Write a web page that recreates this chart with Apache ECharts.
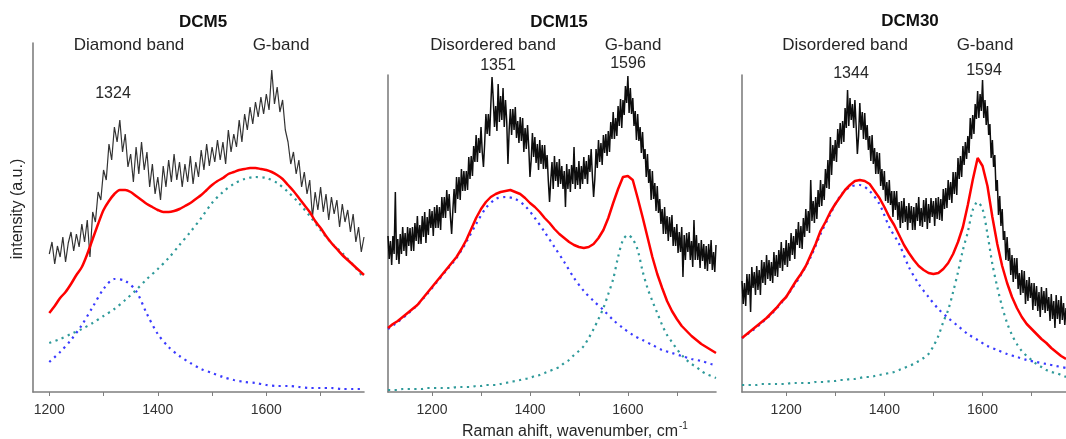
<!DOCTYPE html>
<html><head><meta charset="utf-8">
<script src="https://cdn.jsdelivr.net/npm/echarts@6/dist/echarts.min.js"></script>
<style>html,body{margin:0;padding:0;background:#fff}#c{width:1066px;height:439px}</style>
</head><body><div id="c"></div>
<script>
// ---------- wavenumber sampling grids (cm^-1) ----------
function seq(a, b, s) { const r = []; for (let v = a; v <= b + 1e-9; v += s) r.push(v); return r; }

// ---------- DCM5 ----------
const dcm5RawX = seq(1200, 1780, 5);
const dcm5Raw = [
  138,150,128,146,135,155,130,149,160,141,
  158,145,168,150,172,135,180,170,200,192,
  222,212,248,232,265,250,272,240,258,225,
  238,210,245,218,250,222,240,205,228,198,
  215,192,226,205,232,210,238,212,230,205,
  228,210,236,208,230,215,242,222,248,226,
  245,230,252,232,250,228,262,240,258,245,
  272,250,278,262,285,268,290,275,295,278,
  298,282,322,288,305,280,292,262,250,228,
  240,218,232,205,220,198,212,175,200,182,
  205,180,198,172,195,178,192,165,188,170,
  182,160,178,150,165,140,155
];
const dcm5FitX = seq(1200, 1780, 10);
const dcm5Fit = [79,86,94,100,108,117,125,138,153,168,182,191,198,202,202,200,196,192,188,185,
  182,180,180,181,183,186,189,193,197,202,207,211,214,218,220,222,223,224,224,223,
  222,220,217,213,207,201,194,187,180,171,164,156,149,143,137,132,127,122,117];
const dcm5BandX = seq(1200, 1780, 20);
const dcm5Diamond = [30,40,52,67,85,103,113,111,101,78,58,45,36,29,23,19,15,12,10,9,7,6,6,5,4,4,4,3,3,3];
const dcm5G = [49,53,58,63,69,76,83,92,102,113,123,134,147,160,174,189,200,208,213,215,214,209,200,189,176,162,149,139,127,114];

// ---------- DCM15 ----------
const dcm15RawX = seq(1110, 1780, 2.5);
const dcm15Raw = [
  156,133,151,127,156,138,200,132,153,128,158,138,165,141,159,136,165,146,164,141,
  165,141,169,151,176,148,167,148,176,155,180,149,175,157,183,164,181,156,185,164,
  187,164,185,162,195,174,195,174,202,181,198,175,158,182,203,179,215,193,215,192,
  223,201,221,201,221,202,235,213,236,216,246,230,257,230,254,239,265,240,225,249,
  278,258,278,256,287,315,293,265,286,261,308,270,296,272,304,265,292,271,228,262,
  283,257,283,262,285,254,271,249,275,251,274,240,264,243,267,245,215,232,259,235,
  255,229,248,222,252,228,247,223,247,223,237,211,190,212,230,203,236,211,230,205,
  233,208,226,203,221,185,228,203,223,200,227,208,245,203,225,207,231,203,226,208,
  235,213,231,208,237,220,243,216,195,213,243,224,252,230,249,227,257,239,258,236,
  261,240,270,253,280,253,274,256,286,266,293,264,292,277,306,289,316,279,304,278,
  294,266,281,252,278,251,265,239,260,233,243,215,238,209,223,192,221,193,209,181,
  206,179,193,168,183,158,185,158,176,151,175,155,177,146,165,146,168,139,160,140,
  165,115,157,132,159,140,160,132,151,125,172,132,157,132,149,124,152,131,148,123,
  146,121,148,128,152,122,140,120,147
];
const dcm15FitX = seq(1110, 1780, 10);
const dcm15Fit = [64,68,71,75,79,83,87,93,99,105,111,117,123,129,135,143,152,163,174,183,
  190,195,198,200,201,202,200,198,194,189,185,180,174,169,163,158,154,150,147,145,
  144,145,148,154,162,174,189,203,215,216,212,194,175,155,135,118,104,91,81,73,
  66,61,56,52,48,45,42,39];
const dcm15G = [2,2,2,3,3,3,3,3,4,4,4,4,4,4,5,5,5,5,6,6,
  7,7,7,8,9,10,11,12,13,14,16,17,19,21,23,25,29,32,37,41,
  46,54,63,73,84,98,113,135,152,157,153,142,121,104,91,79,67,57,50,43,
  37,32,28,25,21,18,16,14];
const dcm15BandX = seq(1110, 1770, 20).concat([1780]);
const dcm15D = [63,70,78,87,98,110,122,134,150,168,184,193,195,193,186,174,160,145,130,114,
  101,91,82,72,64,57,52,47,42,39,36,33,31,28,27];

// ---------- DCM30 ----------
const dcm30RawX = seq(1110, 1770, 2.5);
const dcm30Raw = [
  111,88,109,86,118,97,118,80,125,104,120,97,126,102,122,97,132,109,130,107,
  137,113,132,111,130,109,140,116,137,115,142,124,150,121,144,127,152,125,149,131,
  159,137,156,133,163,147,170,144,166,143,174,155,183,161,181,159,212,171,191,169,
  195,173,202,185,212,186,208,192,223,204,232,203,255,217,247,231,252,230,263,244,
  269,248,271,250,284,264,302,266,294,272,288,264,292,266,238,256,289,262,280,253,
  279,252,267,242,256,231,257,228,244,218,240,218,239,206,223,202,221,191,210,189,
  212,187,201,175,201,182,201,172,190,164,191,169,194,170,186,162,189,169,186,162,
  185,162,189,171,195,166,184,165,192,170,194,163,188,169,194,175,191,166,194,173,
  195,172,193,171,203,183,204,184,212,192,210,189,220,198,220,197,234,213,236,215,
  246,227,250,233,256,239,274,253,277,258,288,273,301,274,298,281,312,274,292,267,
  286,257,268,234,252,225,237,201,212,177,196,166,183,152,161,132,155,131,144,117,
  137,110,134,113,134,103,119,97,122,99,121,88,112,91,115,94,109,82,109,86,
  106,81,100,75,105,82,101,79,104,81,95,71,98,73,91,64,97,73,92,68,
  96,72,89,67,84
];
const dcm30FitX = seq(1110, 1770, 10);
const dcm30Fit = [54,58,62,66,70,74,79,84,90,95,103,111,118,126,137,148,161,170,180,188,
  195,202,207,211,212,211,208,201,194,185,175,167,157,147,139,132,126,122,119,118,
  119,123,129,138,150,165,187,212,234,226,206,175,148,126,109,95,84,75,68,63,
  58,53,49,44,40,36,33];
const dcm30G = [7,7,7,7,8,8,8,8,8,8,9,9,9,9,9,10,10,10,11,11,
  12,12,13,13,14,15,15,16,17,18,19,20,22,24,26,28,31,34,38,46,
  56,70,82,100,120,142,160,182,190,183,158,128,105,85,69,57,48,41,36,32,
  28,25,22,20,19,17,15];
const dcm30BandX = seq(1110, 1770, 20);
const dcm30D = [54,61,69,78,89,102,117,135,158,178,196,205,207,201,188,165,148,125,108,95,
  83,74,66,58,52,46,42,38,35,32,30,28,26,24];

// ---------- axis ticks ----------
const tickValues = [1200,1300,1400,1500,1600,1700];
const labelValues = [1200,1400,1600];

// ---------- text ----------
const panelTitles = ['DCM5','DCM15','DCM30'];
const bandLabels = [['Diamond band','G-band'],['Disordered band','G-band'],['Disordered band','G-band']];
const peakLabels = [['1324'],['1351','1596'],['1344','1594']];

const FONT = "'Liberation Sans', Arial, Helvetica, sans-serif";
const pairs = (xs, ys) => ys.map((y, i) => [xs[i], y]);
const AXC = '#7f7f7f';

const grids = [
  {left:33, top:43, width:331, height:349},
  {left:388, top:75, width:328, height:317},
  {left:742, top:75, width:324, height:317}
];
const xr = [[1170,1780],[1110,1780],[1110,1770]];
const ymax = [349, 317, 317];

const xAxes = grids.map((g, i) => ({
  gridIndex:i, type:'value', min:xr[i][0], max:xr[i][1],
  axisLine:{show:true, onZero:false, lineStyle:{color:AXC, width:1.6}},
  axisTick:{show:true, length:4, customValues:tickValues, lineStyle:{color:AXC, width:1}},
  axisLabel:{customValues:labelValues, fontSize:14, color:'#333', margin:11, fontFamily:FONT,
    formatter:(v) => String(v)},
  splitLine:{show:false}
}));
const yAxes = grids.map((g, i) => ({
  gridIndex:i, type:'value', min:0, max:ymax[i],
  axisLine:{show:true, onZero:false, lineStyle:{color:AXC, width:1.6}},
  axisTick:{show:false}, axisLabel:{show:false}, splitLine:{show:false}
}));

function raw(i, data, color, w, op) {
  return {type:'line', xAxisIndex:i, yAxisIndex:i, data, showSymbol:false, silent:true,
    lineStyle:{color, width:w, opacity:op}, z:2};
}
function dots(i, data, color) {
  return {type:'line', xAxisIndex:i, yAxisIndex:i, data, showSymbol:false, silent:true, smooth:0.3,
    lineStyle:{color, width:2.2, type:[2.2,4.4]}, z:3};
}
function fit(i, data, smooth) {
  return {type:'line', xAxisIndex:i, yAxisIndex:i, data, showSymbol:false, silent:true, smooth,
    lineStyle:{color:'#ff0000', width:2.5}, z:4};
}
const BLUE = '#3a3aff', TEAL = '#2f9a9a';

const series = [
  raw(0, pairs(dcm5RawX, dcm5Raw), '#333', 1.2, 1),
  dots(0, pairs(dcm5BandX, dcm5Diamond), BLUE),
  dots(0, pairs(dcm5BandX, dcm5G), TEAL),
  fit(0, pairs(dcm5FitX, dcm5Fit), 0.3),
  raw(1, pairs(dcm15RawX, dcm15Raw), '#000', 1.5, 0.95),
  dots(1, pairs(dcm15BandX, dcm15D), BLUE),
  dots(1, pairs(dcm15FitX, dcm15G), TEAL),
  fit(1, pairs(dcm15FitX, dcm15Fit), false),
  raw(2, pairs(dcm30RawX, dcm30Raw), '#000', 1.5, 0.95),
  dots(2, pairs(dcm30BandX, dcm30D), BLUE),
  dots(2, pairs(dcm30FitX, dcm30G), TEAL),
  fit(2, pairs(dcm30FitX, dcm30Fit), false)
];

function txt(text, x, y, size, bold, extra) {
  return Object.assign({type:'text', x, y, silent:true,
    style:{text, font:(bold?'bold ':'') + size + 'px ' + FONT, fill:bold?'#111':'#262626',
      align:'center', verticalAlign:'middle'}}, extra || {});
}
const graphic = [
  txt(panelTitles[0], 203, 22, 17, true),
  txt(panelTitles[1], 559, 22, 17, true),
  txt(panelTitles[2], 910, 21, 17, true),
  txt(bandLabels[0][0], 129, 45, 17),
  txt(bandLabels[0][1], 281, 45, 17),
  txt(peakLabels[0][0], 113, 94, 16),
  txt(bandLabels[1][0], 493, 45, 17),
  txt(bandLabels[1][1], 633, 45, 17),
  txt(peakLabels[1][0], 498, 66, 16),
  txt(peakLabels[1][1], 628, 64, 16),
  txt(bandLabels[2][0], 845, 45, 17),
  txt(bandLabels[2][1], 985, 45, 17),
  txt(peakLabels[2][0], 851, 74, 16),
  txt(peakLabels[2][1], 984, 71, 16),
  txt('intensity (a.u.)', 18, 209, 16, false, {rotation:Math.PI/2}),
  txt('Raman ahift, wavenumber, cm', 570, 432, 16),
  {type:'text', x:679, y:426, silent:true, style:{text:'-1', font:'10px ' + FONT, fill:'#262626', align:'left', verticalAlign:'middle'}}
];

const chart = echarts.init(document.getElementById('c'), null, {renderer:'canvas'});
chart.setOption({
  animation:false, backgroundColor:'#fff',
  grid:grids, xAxis:xAxes, yAxis:yAxes, series, graphic
});
</script></body></html>
